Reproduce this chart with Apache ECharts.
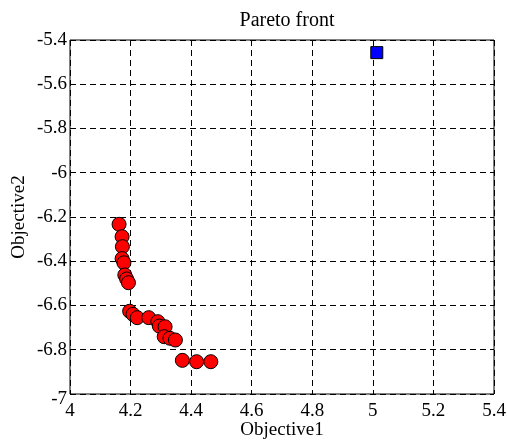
<!DOCTYPE html>
<html>
<head>
<meta charset="utf-8">
<script src="https://cdn.jsdelivr.net/npm/echarts@6/dist/echarts.min.js"></script>
<style>
  html, body { margin: 0; padding: 0; background: #fff; }
  #chart { width: 507px; height: 441px; }
</style>
</head>
<body>
<div id="chart"></div>
<script>
// Pareto front points (Objective1, Objective2)
const paretoObj1 = [4.162, 4.172, 4.173, 4.172, 4.178, 4.181, 4.187, 4.193, 4.197, 4.208, 4.222,
  4.260, 4.290, 4.295, 4.314, 4.311, 4.330, 4.348, 4.371, 4.418, 4.465];
const paretoObj2 = [-6.233, -6.289, -6.334, -6.388, -6.407, -6.462, -6.480, -6.497, -6.626, -6.640, -6.655,
  -6.655, -6.673, -6.693, -6.696, -6.741, -6.748, -6.756, -6.848, -6.854, -6.854];
// single reference point (blue square)
const refPoint = [5.013, -5.457];

const font = "'Liberation Serif', 'DejaVu Serif', serif";
const fmt = (v) => String(+v.toFixed(1));

const chart = echarts.init(document.getElementById("chart"));

const option = {
  backgroundColor: "#fff",
  animation: false,
  title: {
    text: "Pareto front",
    left: 282,
    textAlign: "center",
    top: 6,
    textStyle: { fontFamily: font, fontSize: 20, fontWeight: "normal", color: "#000" },
  },
  grid: {
    left: 70,
    top: 40,
    width: 424,
    height: 354,
    show: true,
    borderColor: "#000",
    borderWidth: 1,
    containLabel: false,
    outerBoundsMode: "none",
  },
  xAxis: {
    type: "value",
    min: 4,
    max: 5.4,
    interval: 0.2,
    name: "Objective1",
    nameLocation: "middle",
    nameGap: 27,
    nameMoveOverlap: false,
    nameTextStyle: { fontFamily: font, fontSize: 19, color: "#000" },
    axisLine: { show: false },
    axisTick: { show: false },
    axisLabel: { fontFamily: font, fontSize: 19, color: "#000", margin: 8, formatter: fmt },
    splitLine: { show: true, lineStyle: { color: "#000", type: [6, 4], width: 1 } },
  },
  yAxis: {
    type: "value",
    min: -7,
    max: -5.4,
    interval: 0.2,
    name: "Objective2",
    nameLocation: "middle",
    nameGap: 41,
    nameMoveOverlap: false,
    nameRotate: 90,
    nameTextStyle: { fontFamily: font, fontSize: 19, color: "#000" },
    axisLine: { show: false },
    axisTick: { show: false },
    axisLabel: {
      fontFamily: font,
      fontSize: 19,
      color: "#000",
      margin: 3,
      formatter: (v) => (v <= -6.99 ? "{lo|-7}" : fmt(v)),
      rich: { lo: { fontFamily: font, fontSize: 19, color: "#000", padding: [10, 0, 0, 0] } },
    },
    splitLine: { show: true, lineStyle: { color: "#000", type: [6, 4], width: 1 } },
  },
  series: [
    {
      name: "Pareto",
      type: "scatter",
      symbol: "circle",
      symbolSize: 14,
      data: paretoObj1.map((x, i) => [x, paretoObj2[i]]),
      itemStyle: { color: "#ff0000", borderColor: "#000", borderWidth: 1, opacity: 1 },
    },
    {
      name: "Reference",
      type: "scatter",
      symbol: "rect",
      symbolSize: 12,
      data: [refPoint],
      itemStyle: { color: "#0000ff", borderColor: "#000", borderWidth: 1, opacity: 1 },
    },
  ],
};

chart.setOption(option);
</script>
</body>
</html>
